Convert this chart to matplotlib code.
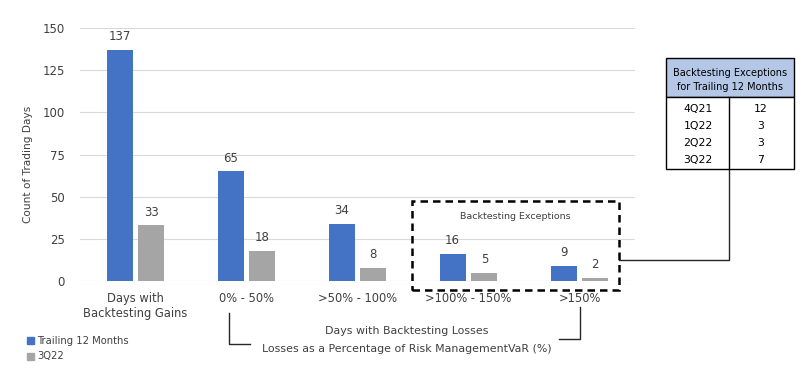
import numpy as np
import matplotlib.pyplot as plt
from matplotlib.patches import Rectangle, Patch

plt.rcParams['font.family'] = ['DejaVu Sans']

categories = ['Days with\nBacktesting Gains', '0% - 50%', '>50% - 100%', '>100% - 150%', '>150%']
trailing = [137, 65, 34, 16, 9]
q322 = [33, 18, 8, 5, 2]
series_names = ['Trailing 12 Months', '3Q22']
table_rows = ['4Q21', '1Q22', '2Q22', '3Q22']
table_vals = [12, 3, 3, 7]

blue = '#4472C4'
grey = '#A5A5A5'
txt = '#404040'

W, H = 807, 382
fig = plt.figure(figsize=(W / 100, H / 100), dpi=100)

def fx(x):
    return x / W

def fy(y):
    return 1 - y / H

ax = fig.add_axes([fx(80), fy(281), fx(635) - fx(80), fy(28) - fy(281)])
x = np.arange(len(categories))
w = 0.235
b1 = ax.bar(x - 0.143, trailing, w, color=blue)
b2 = ax.bar(x + 0.143, q322, w, color=grey)
for bars, vals in ((b1, trailing), (b2, q322)):
    for r, v in zip(bars, vals):
        ax.text(r.get_x() + r.get_width() / 2, v + 4, str(v), ha='center', va='bottom',
                fontsize=8.5, color=txt)

ax.set_xlim(-0.5, 4.5)
ax.set_ylim(0, 150)
ax.set_yticks(np.arange(0, 151, 25))
ax.grid(axis='y', color='#D9D9D9', lw=0.8)
ax.set_axisbelow(True)
for s in ax.spines.values():
    s.set_visible(False)
ax.tick_params(length=0, labelsize=8.5, colors=txt, pad=11)
ax.tick_params(axis='x', pad=8)
ax.set_xticks(x)
ax.set_xticklabels(categories, fontsize=8.3, color=txt)
ax.set_ylabel('Count of Trading Days', fontsize=7.6, color=txt)
ax.yaxis.set_label_coords(-0.085, 0.46)

# dashed box around the exception buckets
ax.add_patch(Rectangle((2.49, -5.3), 1.87, 52.7, fill=False, ec='black', lw=1.8,
                       ls=(0, (3, 2)), clip_on=False, zorder=5))
ax.text(3.425, 38.5, 'Backtesting Exceptions', ha='center', va='center', fontsize=6.8, color=txt)

# overlay in pixel coords for the table, brackets and connectors
ov = fig.add_axes([0, 0, 1, 1], facecolor='none')
ov.set_xlim(0, W)
ov.set_ylim(H, 0)
ov.axis('off')

lc = '#262626'
ov.plot([619, 729, 729], [260, 260, 170], color=lc, lw=1)
ov.plot([229, 229, 250], [313, 344, 344], color=lc, lw=1)
ov.plot([580, 580, 559], [307, 339, 339], color=lc, lw=1)
ov.text(407, 331, 'Days with Backtesting Losses', ha='center', va='center', fontsize=7.9, color=txt)
ov.text(407, 349, 'Losses as a Percentage of Risk ManagementVaR (%)', ha='center', va='center',
        fontsize=7.9, color=txt)

# table
ov.add_patch(Rectangle((666, 58), 128, 39, fc='#B4C7E7', ec='black', lw=1))
ov.add_patch(Rectangle((666, 97), 128, 72, fc='white', ec='black', lw=1))
ov.plot([729, 729], [97, 169], color='black', lw=1)
ov.text(730, 73, 'Backtesting Exceptions', ha='center', va='center', fontsize=7, color='black')
ov.text(730, 87, 'for Trailing 12 Months', ha='center', va='center', fontsize=7, color='black')
for i, (r, v) in enumerate(zip(table_rows, table_vals)):
    yy = 109 + i * 17
    ov.text(698, yy, r, ha='center', va='center', fontsize=7.8, color='black')
    ov.text(761, yy, str(v), ha='center', va='center', fontsize=7.8, color='black')

handles = [Patch(color=blue), Patch(color=grey)]
fig.legend(handles, series_names, loc='upper left', bbox_to_anchor=(fx(18), fy(327)),
           frameon=False, fontsize=7.2, handlelength=0.7, handleheight=0.7,
           handletextpad=0.3, labelspacing=0.55, labelcolor=txt)

fig.savefig('out.png', dpi=100)
